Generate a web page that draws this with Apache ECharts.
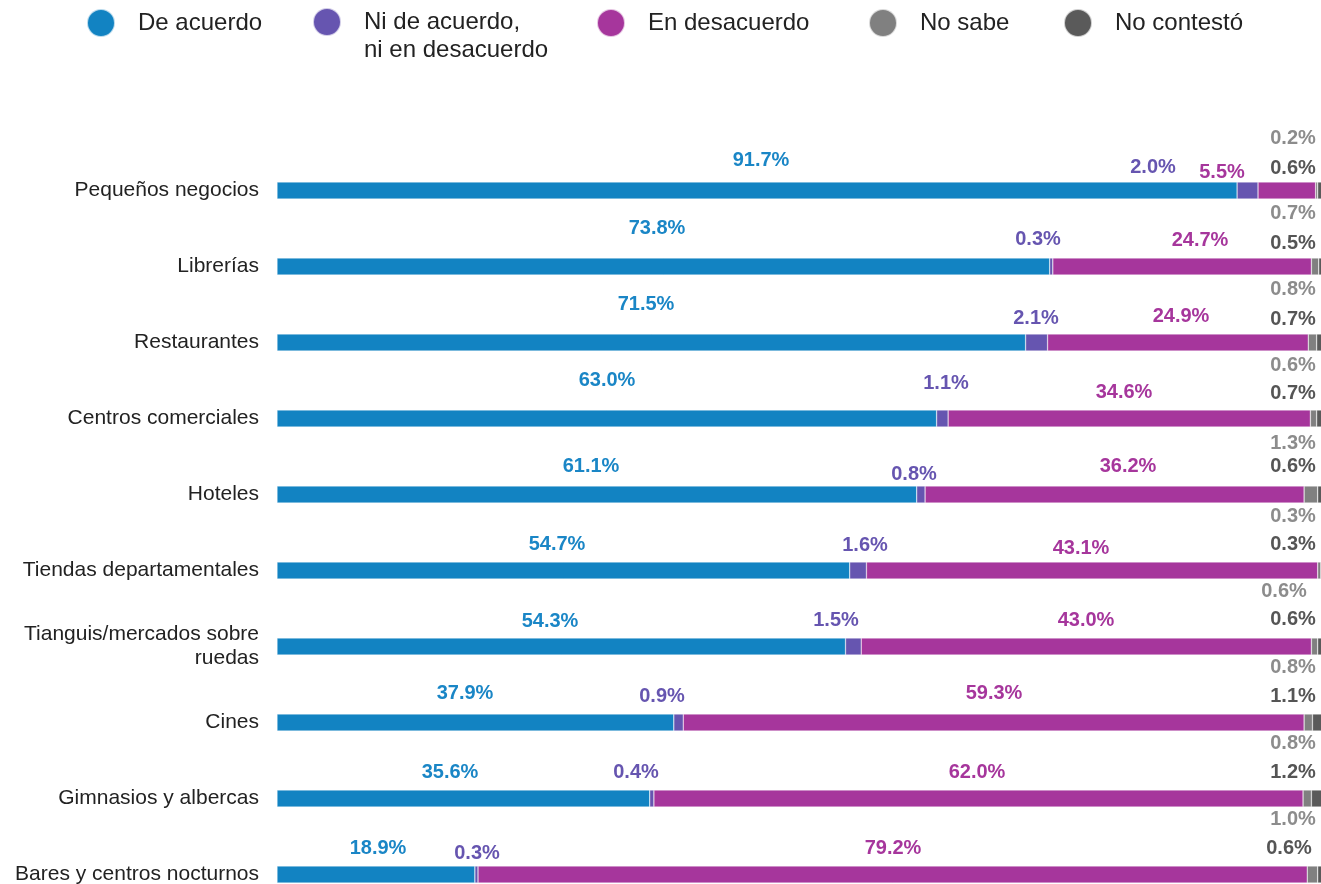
<!DOCTYPE html>
<html lang="es">
<head>
<meta charset="UTF-8" />
<title>Opinión sobre reapertura de establecimientos</title>
<script src="https://cdn.jsdelivr.net/npm/echarts@6/dist/echarts.min.js"></script>
<style>
  html, body { margin: 0; padding: 0; background: #fff; }
  #chart { width: 1321px; height: 884px; }
</style>
</head>
<body>
<div id="chart"></div>
<script>
  const categories = [
    'Pequeños negocios', 'Librerías', 'Restaurantes', 'Centros comerciales', 'Hoteles',
    'Tiendas departamentales', 'Tianguis/mercados sobre\nruedas', 'Cines',
    'Gimnasios y albercas', 'Bares y centros nocturnos'
  ];
  const seriesNames = ['De acuerdo', 'Ni de acuerdo, ni en desacuerdo', 'En desacuerdo', 'No sabe', 'No contestó'];
  const deAcuerdo    = [91.7, 73.8, 71.5, 63.0, 61.1, 54.7, 54.3, 37.9, 35.6, 18.9];
  const niNi         = [2.0, 0.3, 2.1, 1.1, 0.8, 1.6, 1.5, 0.9, 0.4, 0.3];
  const enDesacuerdo = [5.5, 24.7, 24.9, 34.6, 36.2, 43.1, 43.0, 59.3, 62.0, 79.2];
  const noSabe       = [0.2, 0.7, 0.8, 0.6, 1.3, 0.3, 0.6, 0.8, 0.8, 1.0];
  const noContesto   = [0.6, 0.5, 0.7, 0.7, 0.6, 0.3, 0.6, 1.1, 1.2, 0.6];

  const colors = ['#1283c2', '#6655b0', '#a6369c', '#808080', '#5a5a5a'];
  const labelColors = ['#1a86c6', '#6655b0', '#a6369c', '#8c8c8c', '#555555'];

  // where each value label sits on the page (label centre, px)
  const labelPos = [
    [[761,160],[657,228],[646,304],[607,380],[591,466],[557,544],[550,621],[465,693],[450,772],[378,848]],
    [[1153,167],[1038,239],[1036,318],[946,383],[914,474],[865,545],[836,620],[662,696],[636,772],[477,853]],
    [[1222,172],[1200,240],[1181,316],[1124,392],[1128,466],[1081,548],[1086,620],[994,693],[977,772],[893,848]],
    [[1293,138],[1293,213],[1293,289],[1293,365],[1293,443],[1293,516],[1284,591],[1293,667],[1293,743],[1293,819]],
    [[1293,168],[1293,243],[1293,319],[1293,393],[1293,466],[1293,544],[1293,619],[1293,696],[1293,772],[1289,848]]
  ];

  const GRID_LEFT = 277, GRID_W = 1047, GRID_TOP = 152.5, BAND = 76;
  const allValues = [deAcuerdo, niNi, enDesacuerdo, noSabe, noContesto];

  function segCenter(s, i) {
    let cum = 0;
    for (let k = 0; k < s; k++) cum += allValues[k][i];
    return GRID_LEFT + (cum + allValues[s][i] / 2) / 100 * GRID_W;
  }

  const series = allValues.map((vals, s) => ({
    name: seriesNames[s],
    type: 'bar',
    stack: 'total',
    barWidth: 17,
    itemStyle: { color: colors[s], borderColor: 'rgba(255,255,255,0.7)', borderWidth: 0.5 },
    label: {
      show: true,
      position: 'inside',
      color: labelColors[s],
      fontSize: 20,
      fontWeight: 'bold',
      fontFamily: 'Liberation Sans, Arial, sans-serif',
      formatter: (p) => p.value.toFixed(1) + '%'
    },
    data: vals.map((v, i) => ({
      value: v,
      label: {
        offset: [labelPos[s][i][0] - segCenter(s, i), labelPos[s][i][1] - (GRID_TOP + BAND * (i + 0.5))]
      }
    }))
  }));

  const legendLefts = [81, 307, 591, 863, 1058];
  const legends = seriesNames.map((name, s) => {
    const lg = {
      data: [name],
      left: legendLefts[s],
      top: 3,
      icon: 'circle',
      itemWidth: 64,
      itemHeight: 28,
      selectedMode: false,
      textStyle: { fontSize: 24, color: '#222', fontFamily: 'Liberation Sans, Arial, sans-serif' }
    };
    if (s === 1) {
      // leading empty line keeps the first text line level with the dot
      lg.formatter = () => '\nNi de acuerdo,\nni en desacuerdo';
      lg.textStyle.lineHeight = 28;
      lg.top = -25;
    }
    return lg;
  });

  const chart = echarts.init(document.getElementById('chart'));
  chart.setOption({
    animation: false,
    legend: legends,
    grid: {
      left: GRID_LEFT, top: GRID_TOP, width: GRID_W, height: BAND * categories.length,
      containLabel: false, outerBoundsMode: 'none'
    },
    xAxis: { type: 'value', min: 0, max: 100, show: false },
    yAxis: {
      type: 'category',
      data: categories,
      inverse: true,
      axisLine: { show: false },
      axisTick: { show: false },
      axisLabel: {
        fontSize: 21,
        color: '#222',
        margin: 18,
        lineHeight: 24,
        fontFamily: 'Liberation Sans, Arial, sans-serif'
      }
    },
    series: series
  });
</script>
</body>
</html>
